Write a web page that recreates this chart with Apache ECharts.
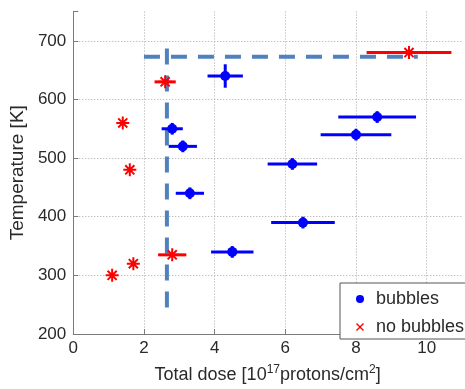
<!DOCTYPE html>
<html>
<head>
<meta charset="utf-8">
<script src="https://cdn.jsdelivr.net/npm/echarts@6/dist/echarts.min.js"></script>
<style>html,body{margin:0;padding:0;background:#fff}#c{width:465px;height:389px}</style>
</head>
<body>
<div id="c"></div>
<script>
// ---- data ----
const bubbleDose    = [4.3, 2.8, 3.1, 3.3, 4.5, 6.2, 8.0, 8.6, 6.5];
const bubbleTemp    = [640, 550, 520, 440, 340, 490, 540, 570, 390];
const bubbleDoseErr = [0.5, 0.3, 0.4, 0.4, 0.6, 0.7, 1.0, 1.1, 0.9];
const bubbleTempErr = [20, 10, 10, 10, 10, 10, 10, 10, 10];

const noBubbleDose    = [1.1, 1.7, 2.8, 1.4, 1.6, 2.6, 9.5];
const noBubbleTemp    = [300, 320, 335, 560, 480, 630, 680];
const noBubbleDoseErr = [0, 0, 0.4, 0, 0, 0.3, 1.2];

const thresholdHDose = [2.0, 9.75];
const thresholdHTemp = [673, 673];
const thresholdVDose = [2.65, 2.65];
const thresholdVTemp = [245, 700];

const xTicks = [0, 2, 4, 6, 8, 10];
const yTicks = [200, 300, 400, 500, 600, 700];

// ---- chart ----
const FONT = 'Liberation Sans, Arial, Helvetica, sans-serif';
const chart = echarts.init(document.getElementById('c'), null, {renderer: 'canvas'});

function errItem(color) {
  return function (params, api) {
    const x = api.value(0), y = api.value(1), ex = api.value(2), ey = api.value(3);
    const children = [];
    if (ex > 0) {
      const a = api.coord([x - ex, y]), b = api.coord([x + ex, y]);
      children.push({type: 'line', shape: {x1: a[0], y1: a[1], x2: b[0], y2: b[1]},
        style: {stroke: color, lineWidth: 3}});
    }
    if (ey > 0) {
      const a = api.coord([x, y - ey]), b = api.coord([x, y + ey]);
      children.push({type: 'line', shape: {x1: a[0], y1: a[1], x2: b[0], y2: b[1]},
        style: {stroke: color, lineWidth: 3}});
    }
    return {type: 'group', children: children};
  };
}

const starPath = 'path://M0,-1L0,1M-1,0L1,0M-0.7,-0.7L0.7,0.7M-0.7,0.7L0.7,-0.7';
const xPath = 'path://M0,0.12L0.12,0L0.5,0.38L0.88,0L1,0.12L0.62,0.5L1,0.88L0.88,1L0.5,0.62L0.12,1L0,0.88L0.38,0.5Z';

const option = {
  animation: false,
  backgroundColor: '#fff',
  textStyle: {fontFamily: FONT},
  grid: {left: 70, top: 11.5, width: 400, height: 325.5, containLabel: false},
  xAxis: {
    type: 'value', min: 0, max: 11, interval: 2,
    name: '{a|Total dose [10}{s|17}{a|protons/cm}{s|2}{a|]}',
    nameLocation: 'middle', nameGap: 30,
    nameTextStyle: {
      rich: {
        a: {fontSize: 18, color: '#2a2a2a', fontFamily: FONT, lineHeight: 22},
        s: {fontSize: 12, color: '#2a2a2a', fontFamily: FONT, verticalAlign: 'top', lineHeight: 22, padding: [0, 0, 8, 0]}
      }
    },
    axisLine: {show: true, onZero: false, lineStyle: {color: '#7a7a7a', width: 1}},
    axisTick: {show: true, inside: true, length: 5, lineStyle: {color: '#7a7a7a'}},
    axisLabel: {fontSize: 17, color: '#2a2a2a', margin: 6,
      formatter: function (v) { return xTicks.indexOf(v) >= 0 ? String(v) : ''; }},
    splitLine: {show: true, showMaxLine: false, lineStyle: {type: [1, 2], color: '#a8a8a8', width: 1}}
  },
  yAxis: {
    type: 'value', min: 200, max: 750, interval: 100,
    name: 'Temperature [K]', nameLocation: 'middle', nameGap: 38, nameRotate: 90,
    nameTextStyle: {fontSize: 19, color: '#2a2a2a', fontFamily: FONT},
    axisLine: {show: true, onZero: false, lineStyle: {color: '#7a7a7a', width: 1}},
    axisTick: {show: true, inside: true, length: 5, lineStyle: {color: '#7a7a7a'}},
    axisLabel: {fontSize: 17, color: '#2a2a2a', margin: 7,
      formatter: function (v) { return yTicks.indexOf(v) >= 0 ? String(v) : ''; }},
    splitLine: {show: true, showMaxLine: false, lineStyle: {type: [1, 2], color: '#a8a8a8', width: 1}}
  },
  legend: {
    show: true, orient: 'vertical', left: 340, top: 283,
    padding: [7, 9, 3, 16], itemGap: 10, itemWidth: 22, itemHeight: 8,
    backgroundColor: '#fff', borderColor: '#555', borderWidth: 1, borderRadius: 0,
    textStyle: {fontSize: 18, color: '#2a2a2a', fontFamily: FONT},
    data: [
      {name: 'bubbles', icon: 'circle', itemStyle: {color: '#0000ff', borderWidth: 0}},
      {name: 'no bubbles', icon: xPath, itemStyle: {color: '#ff0000', borderWidth: 0}}
    ]
  },
  series: [
    {name: 'thresholdH', type: 'line', silent: true, symbol: 'none', z: 1,
      data: thresholdHDose.map((d, i) => [d, thresholdHTemp[i]]),
      lineStyle: {color: '#4f81bd', width: 4, type: [16, 11]}},
    {name: 'thresholdV', type: 'line', silent: true, symbol: 'none', z: 1,
      data: thresholdVDose.map((d, i) => [d, thresholdVTemp[i]]),
      lineStyle: {color: '#4f81bd', width: 4, type: [16, 11]}},
    {name: 'bubbleErr', type: 'custom', z: 3, renderItem: errItem('#0000ff'),
      encode: {x: 0, y: 1},
      data: bubbleDose.map((d, i) => [d, bubbleTemp[i], bubbleDoseErr[i], bubbleTempErr[i]])},
    {name: 'bubbles', type: 'scatter', z: 4, symbol: 'circle', symbolSize: 10,
      itemStyle: {color: '#0000ff', opacity: 1},
      data: bubbleDose.map((d, i) => [d, bubbleTemp[i]])},
    {name: 'noBubbleErr', type: 'custom', z: 3, renderItem: errItem('#ff0000'),
      encode: {x: 0, y: 1},
      data: noBubbleDose.map((d, i) => [d, noBubbleTemp[i], noBubbleDoseErr[i], 0])},
    {name: 'no bubbles', type: 'scatter', z: 4, symbol: starPath, symbolSize: 13,
      itemStyle: {color: '#ff0000', borderColor: '#ff0000', borderWidth: 2, opacity: 1},
      data: noBubbleDose.map((d, i) => [d, noBubbleTemp[i]])}
  ]
};
chart.setOption(option);
</script>
</body>
</html>
